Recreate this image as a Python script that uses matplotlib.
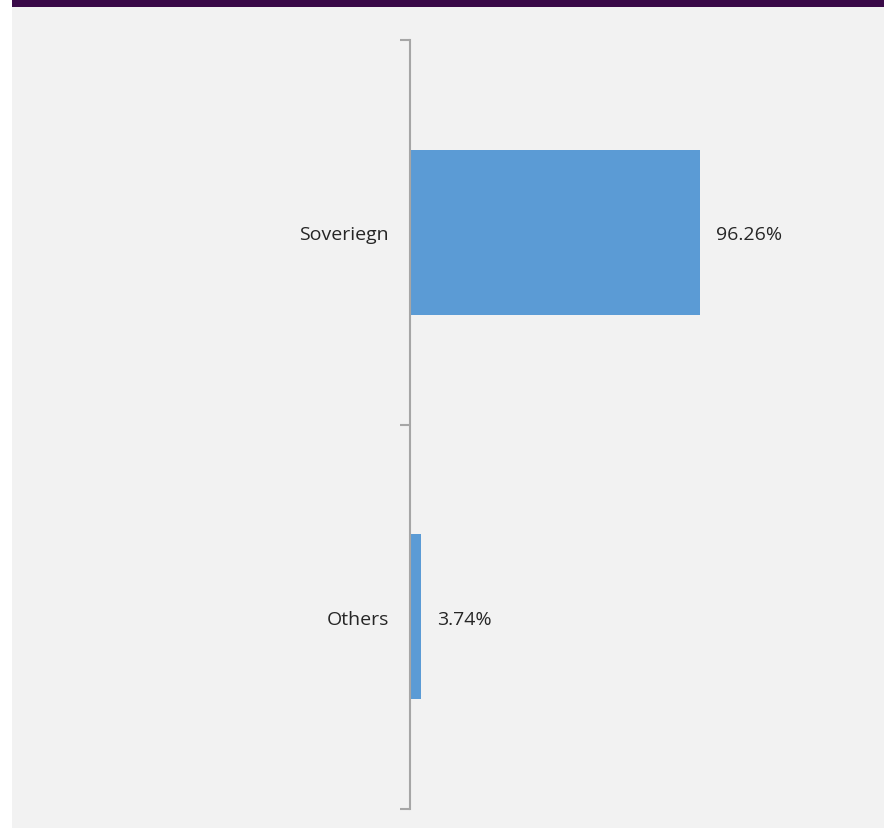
import matplotlib.pyplot as plt
from matplotlib.patches import Rectangle

# Asset allocation data
categories = ['Soveriegn', 'Others']
values = [96.26, 3.74]
value_labels = ['96.26%', '3.74%']

W, H = 889, 829
fig = plt.figure(figsize=(W / 100, H / 100), dpi=100, facecolor='white')

# light grey panel and the dark purple header strip, kept behind the axes
fig.add_artist(Rectangle((12 / W, 0), 872 / W, (H - 8) / H,
                         transform=fig.transFigure, facecolor='#f2f2f2',
                         edgecolor='none', zorder=-10))
fig.add_artist(Rectangle((12 / W, (H - 8) / H), 872 / W, 8 / H,
                         transform=fig.transFigure, facecolor='#3a0a48',
                         edgecolor='none', zorder=-10))

ax = fig.add_axes([410 / W, (H - 810) / H, 474 / W, 769 / H])
ax.set_facecolor('none')
ax.set_zorder(1)

pos = list(range(len(categories)))
ax.barh(pos, values, height=0.43, color='#5b9bd5')
ax.set_ylim(len(categories) - 0.5, -0.5)
ax.set_xlim(0, 474 / 3.013)

# value labels to the right of each bar
for p, v, lab in zip(pos, values, value_labels):
    ax.text(v + 5.2, p, lab, va='center_baseline', ha='left', fontsize=14,
            family='Open Sans', color='#262626')

# tick marks on category boundaries, labels at category centres
ax.set_yticks([p - 0.5 for p in pos] + [len(categories) - 0.5])
ax.set_yticklabels([])
ax.set_yticks(pos, minor=True)
ax.set_yticklabels(categories, minor=True, fontsize=14, family='Open Sans',
                   color='#262626')
ax.tick_params(axis='y', which='major', length=7, width=1.5, color='#a6a6a6')
ax.tick_params(axis='y', which='minor', length=0, pad=15)
ax.set_xticks([])

for s in ['top', 'right', 'bottom']:
    ax.spines[s].set_visible(False)
ax.spines['left'].set_color('#a6a6a6')
ax.spines['left'].set_linewidth(1.5)

fig.savefig('out.png', dpi=100, facecolor=fig.get_facecolor())
